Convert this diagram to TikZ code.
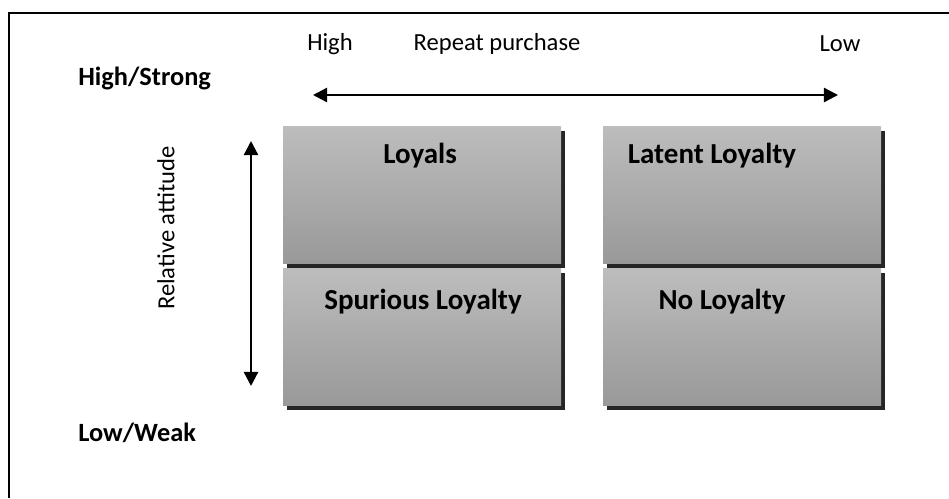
\documentclass[tikz,border=0pt]{standalone}
\usepackage{fontspec}
\setmainfont{Carlito}
\usepackage{tikz}
\usetikzlibrary{arrows.meta,calc,shadows}

\tikzset{
	cell/.style={draw=none, top color=black!26, bottom color=black!40,
		minimum width=278*0.02cm, minimum height=137*0.02cm,
		drop shadow={shadow xshift=2.2pt, shadow yshift=-2.6pt, fill=black!85, opacity=1}},
	celltext/.style={font=\bfseries\fontsize{16.5}{19}\selectfont},
	axislabel/.style={font=\fontsize{14}{16}\selectfont},
	sidelabel/.style={font=\bfseries\fontsize{15}{17}\selectfont, anchor=west, inner sep=0pt},
	axis/.style={line width=1.3pt, {Triangle[length=8pt,width=8pt]}-{Triangle[length=8pt,width=8pt]}}
}

\begin{document}
\begin{tikzpicture}[x=0.02cm,y=-0.02cm]
		\useasboundingbox (0,0) rectangle (949,498);
		
		% frame (cut off at right and bottom)
		\draw[line width=1.1pt] (9,498) -- (9,13) -- (949,13);
		
		% the four cells
		\node[cell] (loyals) at (422,195) {};
		\node[cell] (latent) at (742,195) {};
		\node[cell] (spurious) at (422,337) {};
		\node[cell] (none) at (742,337) {};
		
		% cell titles
		\node[celltext] (tloyals) at (420,156) {Loyals};
		\node[celltext] (tlatent) at (712,156) {Latent Loyalty};
		\node[celltext] (tspurious) at (423,302) {Spurious Loyalty};
		\node[celltext] (tnone) at (722,302) {No Loyalty};
		
		% repeat purchase axis
		\node[axislabel] (high) at (330,44) {High};
		\node[axislabel] (repeat) at (497,44) {Repeat purchase};
		\node[axislabel] (low) at (840,44) {Low};
		\coordinate (hleft) at (313,95);
		\coordinate (hright) at (838,95);
		\draw[axis] (hleft) -- (hright);
		
		% relative attitude axis
		\node[axislabel, rotate=90] (attitude) at (166,228) {Relative attitude};
		\coordinate (vtop) at (251,141);
		\coordinate (vbot) at (251,386);
		\draw[axis] (vtop) -- (vbot);
		
		\node[sidelabel] (strong) at (78,78) {High/Strong};
		\node[sidelabel] (weak) at (78,433) {Low/Weak};
		
	\end{tikzpicture}
\end{document}
